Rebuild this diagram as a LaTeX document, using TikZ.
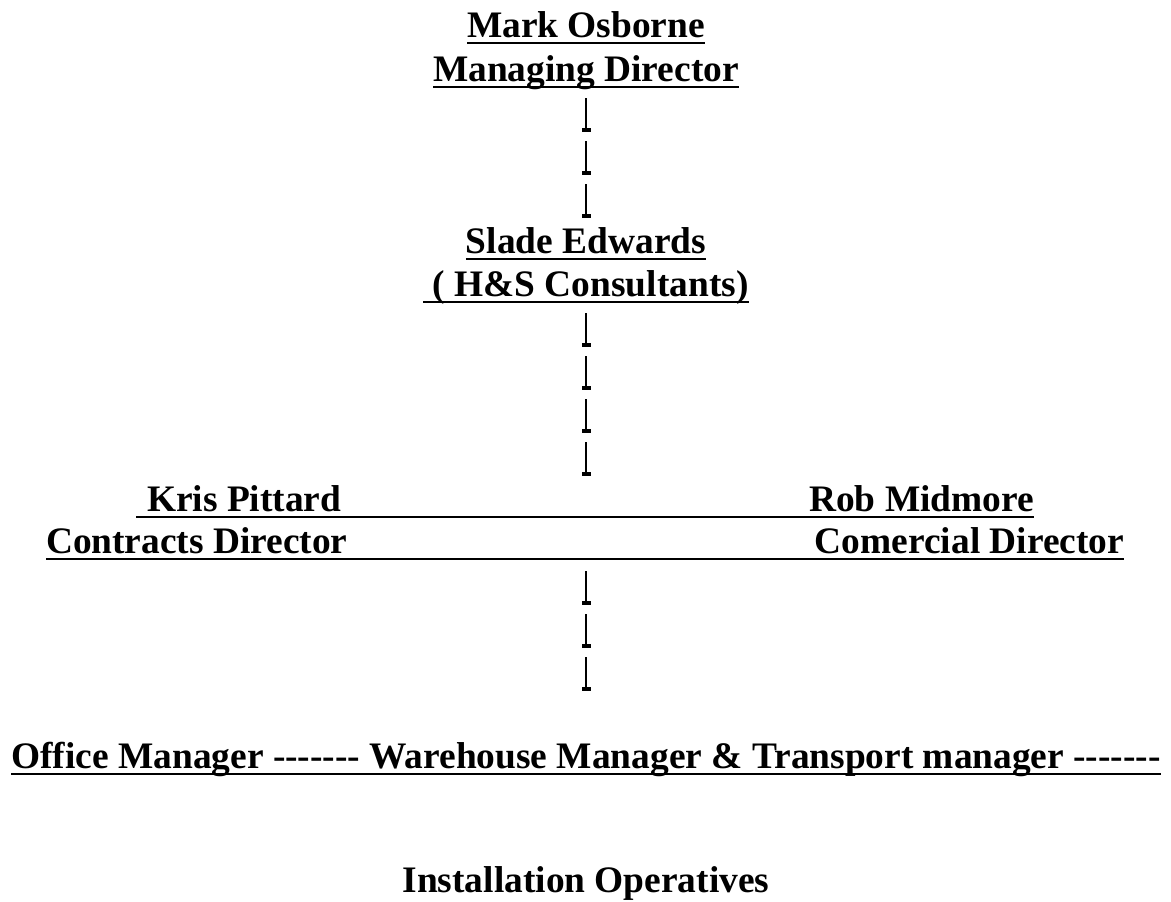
\documentclass[tikz,border=0pt]{standalone}
\usepackage{fontspec}
\setmainfont{Liberation Serif}
\usetikzlibrary{calc}

% seven plain hyphens, no dash ligatures
\newcommand{\rowdash}{-{}-{}-{}-{}-{}-{}-}

\tikzset{
    title/.style={font=\fontsize{18.7}{22}\selectfont\bfseries, inner sep=0pt, outer sep=0pt},
    uline/.style={line width=1.4pt},
    orgbar/.pic={
        \draw[line width=1pt] (0,-32) -- (0,0);
        \fill (-4.5,-1.6) rectangle (4.5,1.6);
    }
}

\begin{document}
\begin{tikzpicture}[x=0.5pt, y=-0.5pt]
    \useasboundingbox (0,0) rectangle (1171,901);
    % top of the tree
    \node[title, anchor=base] (mo) at (586,37) {Mark Osborne};
    \node[title, anchor=base] (md) at (586,81) {Managing Director};
    \node[title, anchor=base] (se) at (586,253) {Slade Edwards};
    \node[title, anchor=base] (hs) at (586,296) {\ ( H\&S Consultants)};
    % directors
    \node[title, anchor=base west] (kp) at (147,511) {Kris Pittard};
    \node[title, anchor=base east] (rm) at (1034,511) {Rob Midmore};
    \node[title, anchor=base west] (cd) at (46,553) {Contracts Director};
    \node[title, anchor=base east] (cm) at (1124,553) {Comercial Director};
    % managers and operatives
    \node[title, anchor=base] (om) at (586,768) {Office Manager \rowdash{} Warehouse Manager \& Transport manager \rowdash};
    \node[title, anchor=base] (io) at (586,892) {Installation Operatives};

    \foreach \n in {mo, md, se, hs, om}{
        \draw[uline] ([yshift=-3pt]\n.base west) -- ([yshift=-3pt]\n.base east);
    }
    \draw[uline] ([xshift=-5.5pt,yshift=-3pt]kp.base west) -- ([yshift=-3pt]rm.base east);
    \draw[uline] ([yshift=-3pt]cd.base west) -- ([yshift=-3pt]cm.base east);

    % the bars
    \foreach \k in {0,1,2}{
        \pic at ($(md.base)+(0,49+43*\k)$) {orgbar};
    }
    \foreach \k in {0,1,2,3}{
        \pic at ($(hs.base)+(0,49+43*\k)$) {orgbar};
    }
    \foreach \k in {0,1,2}{
        \pic at ($(cd.base-|md.base)+(0,50+43*\k)$) {orgbar};
    }
\end{tikzpicture}
\end{document}
